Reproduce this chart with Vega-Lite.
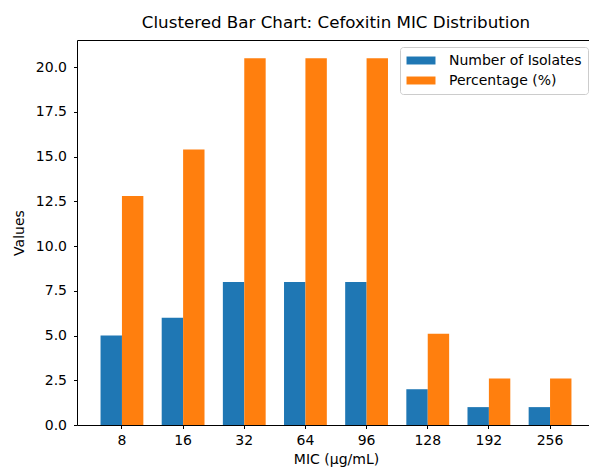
{
  "$schema": "https://vega.github.io/schema/vega-lite/v6.json",
  "autosize": {"type": "none"},
  "padding": {"left": 77, "top": 40, "right": 0, "bottom": 46},
  "width": 518,
  "height": 385,
  "background": "white",
  "config": {
    "font": "DejaVu Sans",
    "view": {"stroke": "black", "strokeWidth": 1},
    "axis": {"grid": false, "domain": false, "tickColor": "black", "tickSize": 3.5, "labelFontSize": 14, "labelColor": "black", "titleFontSize": 14, "titleFontWeight": "normal", "titleColor": "black", "labelFont": "DejaVu Sans", "titleFont": "DejaVu Sans"}
  },
  "title": {"text": "Clustered Bar Chart: Cefoxitin MIC Distribution", "fontSize": 16.7, "fontWeight": "normal", "font": "DejaVu Sans", "color": "black", "anchor": "middle", "offset": 8, "frame": "group"},
  "data": {"values": [
    {"MIC": "8", "series": "Number of Isolates", "value": 5},
    {"MIC": "16", "series": "Number of Isolates", "value": 6},
    {"MIC": "32", "series": "Number of Isolates", "value": 8},
    {"MIC": "64", "series": "Number of Isolates", "value": 8},
    {"MIC": "96", "series": "Number of Isolates", "value": 8},
    {"MIC": "128", "series": "Number of Isolates", "value": 2},
    {"MIC": "192", "series": "Number of Isolates", "value": 1},
    {"MIC": "256", "series": "Number of Isolates", "value": 1},
    {"MIC": "8", "series": "Percentage (%)", "value": 12.8},
    {"MIC": "16", "series": "Percentage (%)", "value": 15.4},
    {"MIC": "32", "series": "Percentage (%)", "value": 20.5},
    {"MIC": "64", "series": "Percentage (%)", "value": 20.5},
    {"MIC": "96", "series": "Percentage (%)", "value": 20.5},
    {"MIC": "128", "series": "Percentage (%)", "value": 5.1},
    {"MIC": "192", "series": "Percentage (%)", "value": 2.6},
    {"MIC": "256", "series": "Percentage (%)", "value": 2.6}
  ]},
  "mark": {"type": "bar"},
  "encoding": {
    "x": {"field": "MIC", "type": "nominal", "sort": ["8", "16", "32", "64", "96", "128", "192", "256"],
      "scale": {"paddingInner": 0.3, "paddingOuter": 0.385},
      "axis": {"title": "MIC (μg/mL)", "labelAngle": 0, "labelPadding": 5, "titlePadding": 5}},
    "xOffset": {"field": "series", "type": "nominal", "scale": {"paddingInner": 0, "paddingOuter": 0}},
    "y": {"field": "value", "type": "quantitative", "scale": {"domain": [0, 21.525], "nice": false, "zero": true},
      "axis": {"title": "Values", "values": [0, 2.5, 5, 7.5, 10, 12.5, 15, 17.5, 20], "format": ".1f", "labelPadding": 7, "titlePadding": 9}},
    "color": {"field": "series", "type": "nominal",
      "scale": {"domain": ["Number of Isolates", "Percentage (%)"], "range": ["#1f77b4", "#ff7f0e"]},
      "legend": {"title": null, "orient": "top-right", "offset": 7, "labelFontSize": 14, "labelFont": "DejaVu Sans", "labelColor": "black",
        "symbolType": "M-2.07,-0.57L2.07,-0.57L2.07,0.57L-2.07,0.57Z", "symbolSize": 196, "symbolOffset": 7.5, "symbolStrokeWidth": 0, "symbolOpacity": 1,
        "rowPadding": 6, "labelOffset": 21, "padding": 6.5, "strokeColor": "#cccccc", "fillColor": "white", "cornerRadius": 3}}
  }
}
